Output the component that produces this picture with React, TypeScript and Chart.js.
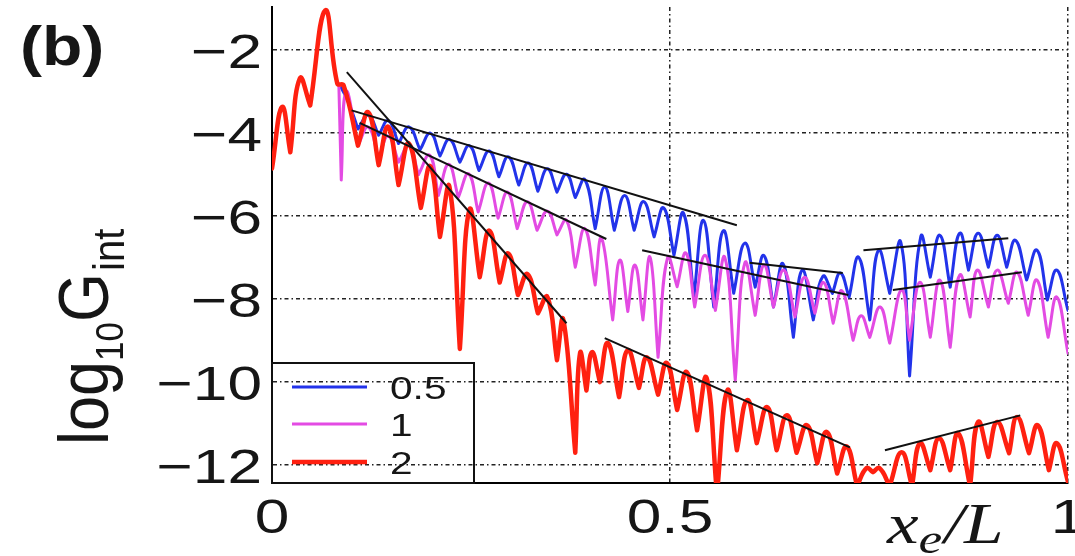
import React, { useEffect, useRef } from 'react';
import { Chart, registerables } from 'chart.js';

Chart.register(...registerables);

// ---------- data ----------
const seriesLabels = ['0.5', '1', '2'];
const seriesColors = ['#2233ea', '#e34be3', '#ff2010'];

const blueX = [0.087, 0.097, 0.108, 0.121, 0.134, 0.146, 0.159, 0.172, 0.186, 0.199, 0.211, 0.223, 0.236, 0.248, 0.26, 0.273, 0.285, 0.297, 0.31, 0.322, 0.334, 0.346, 0.358, 0.37, 0.381, 0.393, 0.406, 0.418, 0.43, 0.443, 0.455, 0.467, 0.48, 0.492, 0.505, 0.517, 0.53, 0.542, 0.555, 0.567, 0.58, 0.594, 0.607, 0.618, 0.63, 0.642, 0.655, 0.666, 0.68, 0.692, 0.704, 0.714, 0.725, 0.737, 0.751, 0.762, 0.776, 0.79, 0.801, 0.815, 0.827, 0.839, 0.852, 0.864, 0.875, 0.887, 0.9, 0.911, 0.923, 0.934, 0.948, 0.961, 0.974, 0.986, 1.0];
const blueY = [-2.9, -3.3, -3.9, -3.57, -4.05, -3.7, -4.25, -3.85, -4.4, -4.0, -4.55, -4.15, -4.7, -4.3, -4.9, -4.43, -5.05, -4.57, -5.25, -4.72, -5.4, -4.86, -5.42, -4.99, -5.55, -5.12, -6.3, -5.3, -6.34, -5.5, -6.34, -5.65, -6.5, -5.8, -6.94, -5.93, -7.95, -6.1, -8.19, -6.35, -7.86, -6.65, -7.71, -6.95, -8.19, -7.15, -8.92, -7.3, -8.5, -7.45, -7.86, -7.37, -7.95, -6.99, -8.5, -6.82, -7.86, -6.63, -9.85, -6.5, -7.47, -6.46, -7.71, -6.41, -7.3, -6.41, -7.23, -6.46, -7.23, -6.58, -7.54, -6.82, -8.02, -7.3, -8.27];

const magentaX = [0.084, 0.087, 0.093, 0.108, 0.121, 0.134, 0.146, 0.159, 0.172, 0.184, 0.198, 0.209, 0.222, 0.234, 0.247, 0.259, 0.272, 0.284, 0.296, 0.308, 0.321, 0.333, 0.346, 0.358, 0.37, 0.381, 0.393, 0.406, 0.414, 0.428, 0.437, 0.447, 0.456, 0.466, 0.475, 0.485, 0.497, 0.509, 0.52, 0.531, 0.544, 0.557, 0.569, 0.582, 0.594, 0.607, 0.618, 0.63, 0.643, 0.657, 0.669, 0.682, 0.693, 0.705, 0.716, 0.73, 0.74, 0.751, 0.764, 0.776, 0.791, 0.801, 0.814, 0.827, 0.839, 0.852, 0.864, 0.877, 0.886, 0.9, 0.911, 0.925, 0.936, 0.95, 0.961, 0.975, 0.986, 1.0];
const magentaY = [-2.85, -5.13, -3.0, -4.3, -3.85, -4.6, -4.07, -4.7, -4.3, -5.0, -4.53, -5.5, -4.75, -5.55, -4.98, -5.9, -5.2, -6.05, -5.42, -6.3, -5.65, -6.34, -5.88, -6.45, -6.1, -7.23, -6.3, -7.66, -6.53, -8.5, -7.06, -8.3, -7.18, -8.5, -6.99, -9.4, -7.0, -7.7, -6.89, -8.19, -6.94, -8.27, -7.0, -9.95, -7.13, -8.39, -7.18, -8.19, -7.3, -8.43, -7.47, -8.34, -7.6, -8.58, -7.8, -8.99, -8.4, -8.92, -8.19, -9.06, -7.78, -8.99, -7.59, -8.92, -7.54, -9.16, -7.42, -8.43, -7.3, -8.19, -7.3, -8.1, -7.35, -8.39, -7.54, -8.92, -7.95, -9.3];

const redX = [0, 0.0126, 0.023, 0.035, 0.048, 0.067, 0.082, 0.09, 0.108, 0.121, 0.134, 0.146, 0.159, 0.172, 0.187, 0.199, 0.211, 0.223, 0.236, 0.248, 0.261, 0.273, 0.286, 0.297, 0.309, 0.321, 0.334, 0.346, 0.358, 0.366, 0.381, 0.387, 0.395, 0.402, 0.412, 0.422, 0.436, 0.447, 0.461, 0.471, 0.485, 0.496, 0.509, 0.521, 0.534, 0.546, 0.559, 0.572, 0.584, 0.597, 0.609, 0.622, 0.634, 0.647, 0.659, 0.672, 0.685, 0.697, 0.71, 0.722, 0.735, 0.747, 0.755, 0.763, 0.776, 0.791, 0.804, 0.814, 0.827, 0.838, 0.852, 0.862, 0.877, 0.887, 0.9, 0.911, 0.926, 0.936, 0.951, 0.962, 0.976, 0.986, 1.0];
const redY = [-4.85, -3.37, -4.46, -2.68, -3.33, -1.04, -2.8, -2.85, -4.3, -3.5, -4.77, -3.85, -5.25, -4.25, -5.8, -4.8, -6.5, -5.3, -9.2, -5.85, -7.47, -6.35, -7.6, -6.9, -7.9, -7.4, -8.34, -7.95, -9.47, -8.5, -11.7, -9.3, -10.2, -9.28, -10.0, -9.06, -10.36, -9.23, -10.14, -9.4, -10.3, -9.54, -10.67, -9.76, -11.16, -9.9, -12.7, -10.2, -11.64, -10.43, -11.47, -10.6, -11.64, -10.8, -11.7, -11.04, -11.95, -11.2, -12.2, -11.55, -12.5, -12.07, -12.17, -12.07, -12.5, -11.69, -12.5, -11.47, -12.12, -11.35, -12.12, -11.23, -12.5, -10.96, -11.8, -10.96, -11.71, -10.84, -11.71, -11.04, -12.12, -11.47, -12.4];

// straight black fit segments
const fitStartX = [0.094, 0.418, 0.77, 0.1, 0.6, 0.743, 0.11, 0.465, 0.78];
const fitStartY = [-2.53, -8.94, -11.64, -3.45, -7.12, -6.82, -3.75, -6.82, -7.78];
const fitEndX = [0.37, 0.726, 0.94, 0.584, 0.717, 0.925, 0.42, 0.724, 0.942];
const fitEndY = [-8.58, -11.57, -10.8, -6.22, -7.37, -6.53, -6.55, -7.9, -7.35];

const xTicks = [0, 0.5, 1];
const xTickLabels = ['0', '0.5', '1'];
const yTicks = [-12, -10, -8, -6, -4, -2];
const yTickLabels = ['−12', '−10', '−8', '−6', '−4', '−2'];
const X_MIN = 0, X_MAX = 1, Y_MIN = -12.43, Y_MAX = -0.96;

const panelLabel = '(b)';
const yTitleParts = ['log', '10', 'G', 'int'];
const xTitleParts = ['x', 'e', '/L'];

// ---------- drawing helpers ----------
const SANS = "'Liberation Sans', Arial, Helvetica, sans-serif";
const SERIF = "'Liberation Serif', 'Times New Roman', serif";
const SX = 1.27;
const TEXT = '#161616';

function stretchText(ctx: CanvasRenderingContext2D, s: string, x: number, y: number, font: string, align: 'left' | 'center' | 'right', sx = SX): number {
  ctx.save();
  ctx.font = font;
  const w = ctx.measureText(s).width * sx;
  let left = x;
  if (align === 'center') left = x - w / 2;
  else if (align === 'right') left = x - w;
  ctx.translate(left, y);
  ctx.scale(sx, 1);
  ctx.textAlign = 'left';
  ctx.textBaseline = 'alphabetic';
  ctx.fillText(s, 0, 0);
  ctx.restore();
  return w;
}

const decorPlugin = {
  id: 'decor',
  afterDraw(chart: any) {
    const { ctx, chartArea, scales } = chart;
    const xs = scales.x;
    const ys = scales.y;
    ctx.save();
    ctx.fillStyle = TEXT;

    // tick labels
    yTicks.forEach((v, i) => {
      stretchText(ctx, yTickLabels[i], chartArea.left - 10, ys.getPixelForValue(v) + 17.5, `49px ${SANS}`, 'right');
    });
    xTicks.forEach((v, i) => {
      stretchText(ctx, xTickLabels[i], xs.getPixelForValue(v), chartArea.bottom + 50, `49px ${SANS}`, 'center');
    });

    // panel label
    stretchText(ctx, panelLabel, 20, 65, `bold 56px ${SANS}`, 'left', 1.18);

    // x title  x_e/L
    let cx = 887;
    cx += stretchText(ctx, xTitleParts[0], cx, 543, `italic 56px ${SERIF}`, 'left');
    cx += stretchText(ctx, xTitleParts[1], cx, 553, `italic 42px ${SERIF}`, 'left');
    stretchText(ctx, xTitleParts[2], cx + 2, 543, `italic 56px ${SERIF}`, 'left');

    // y title  log10 G int (rotated)
    ctx.save();
    ctx.translate(108, 445);
    ctx.rotate(-Math.PI / 2);
    ctx.scale(1, 1.12);
    ctx.textAlign = 'left';
    ctx.textBaseline = 'alphabetic';
    let p = 0;
    ctx.font = `63px ${SANS}`;
    ctx.fillText(yTitleParts[0], p, 0);
    p += ctx.measureText(yTitleParts[0]).width;
    ctx.font = `35px ${SANS}`;
    ctx.fillText(yTitleParts[1], p, 13);
    p += ctx.measureText(yTitleParts[1]).width;
    ctx.font = `63px ${SANS}`;
    ctx.fillText(yTitleParts[2], p, 0);
    p += ctx.measureText(yTitleParts[2]).width;
    ctx.font = `40px ${SANS}`;
    ctx.fillText(yTitleParts[3], p + 2, 14);
    ctx.restore();

    // legend box
    const lx = chartArea.left;
    const lb = chartArea.bottom;
    ctx.strokeStyle = '#111';
    ctx.lineWidth = 2;
    ctx.strokeRect(lx, lb - 120, 202, 120);
    const rows = [lb - 96, lb - 59, lb - 21];
    const widths = [3, 3, 4.5];
    seriesLabels.forEach((lab, i) => {
      ctx.strokeStyle = seriesColors[i];
      ctx.lineWidth = widths[i];
      ctx.beginPath();
      ctx.moveTo(lx + 20, rows[i]);
      ctx.lineTo(lx + 95, rows[i]);
      ctx.stroke();
      ctx.fillStyle = TEXT;
      stretchText(ctx, lab, lx + 118, rows[i] + 11.5, `32px ${SANS}`, 'left');
    });
    ctx.restore();
  },
};

// Build the path points; each local minimum is given twice so the spline
// forms a sharp cusp there (arches with pointed dips), as in the figure.
const pts = (xs: number[], ys: number[]) => {
  const out: { x: number; y: number }[] = [];
  xs.forEach((x, i) => {
    const p = { x, y: ys[i] };
    out.push(p);
    const isMin = i > 0 && i < xs.length - 1 && ys[i] < ys[i - 1] && ys[i] < ys[i + 1];
    if (isMin) out.push({ x, y: ys[i] });
  });
  return out;
};

export default function App() {
  const canvasRef = useRef<HTMLCanvasElement | null>(null);

  useEffect(() => {
    const canvas = canvasRef.current;
    if (!canvas) return;

    const fitSets = fitStartX.map((x0, i) => ({
      label: `fit${i}`,
      data: [{ x: x0, y: fitStartY[i] }, { x: fitEndX[i], y: fitEndY[i] }],
      borderColor: '#111111',
      borderWidth: 2,
      tension: 0,
      order: 0,
    }));

    const curve = (label: string, xs: number[], ys: number[], color: string, width: number, order: number) => ({
      label,
      data: pts(xs, ys),
      borderColor: color,
      borderWidth: width,
      tension: 0.45,
      borderJoinStyle: 'round' as const,
      borderCapStyle: 'round' as const,
      order,
    });

    const chart = new Chart(canvas, {
      type: 'scatter',
      data: {
        datasets: [
          ...fitSets,
          curve(seriesLabels[2], redX, redY, seriesColors[2], 4.5, 1),
          curve(seriesLabels[1], magentaX, magentaY, seriesColors[1], 3, 2),
          curve(seriesLabels[0], blueX, blueY, seriesColors[0], 3, 3),
        ] as any,
      },
      options: {
        responsive: false,
        animation: false,
        devicePixelRatio: 1,
        showLine: true,
        clip: 0 as any,
        elements: { point: { radius: 0, hoverRadius: 0 } },
        layout: { padding: { left: 0, top: 7, right: 7, bottom: 0 } },
        plugins: { legend: { display: false }, tooltip: { enabled: false } },
        scales: {
          x: {
            type: 'linear',
            min: X_MIN,
            max: X_MAX,
            bounds: 'data',
            afterBuildTicks: (s: any) => { s.ticks = xTicks.map((value) => ({ value })); },
            afterFit: (s: any) => { s.height = 73; },
            ticks: { display: false },
            grid: { color: '#222', lineWidth: 1.5, drawTicks: false },
            border: { display: true, color: '#000', width: 2, dash: [4, 3, 1.5, 3] },
          },
          y: {
            type: 'linear',
            min: Y_MIN,
            max: Y_MAX,
            bounds: 'data',
            afterBuildTicks: (s: any) => { s.ticks = yTicks.map((value) => ({ value })); },
            afterFit: (s: any) => { s.width = 272; },
            ticks: { display: false },
            grid: { color: '#222', lineWidth: 1.5, drawTicks: false },
            border: { display: true, color: '#000', width: 2, dash: [4, 3, 1.5, 3] },
          },
        },
      } as any,
      plugins: [decorPlugin],
    });

    return () => chart.destroy();
  }, []);

  return (
    <div style={{ position: 'absolute', left: 0, top: 0, width: 1075, height: 556, background: '#fff' }}>
      <canvas ref={canvasRef} width={1075} height={556} style={{ display: 'block' }} />
    </div>
  );
}
